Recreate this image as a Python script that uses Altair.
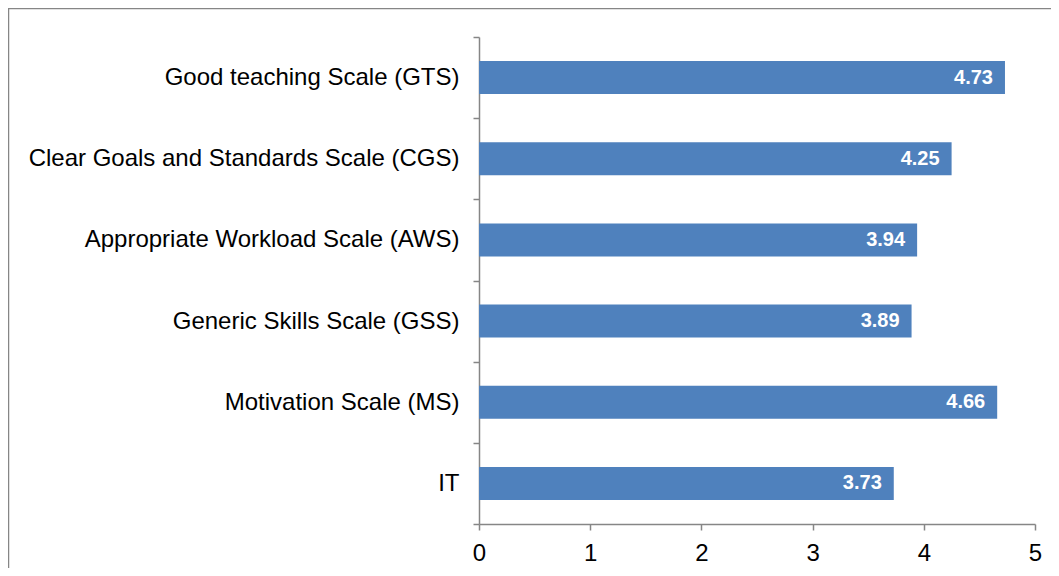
import altair as alt
import pandas as pd

categories = [
    "Good teaching Scale (GTS)",
    "Clear Goals and Standards Scale (CGS)",
    "Appropriate Workload Scale (AWS)",
    "Generic Skills Scale (GSS)",
    "Motivation Scale (MS)",
    "IT",
]
values = [4.73, 4.25, 3.94, 3.89, 4.66, 3.73]
x_ticks = [0, 1, 2, 3, 4, 5]

df = pd.DataFrame({"category": categories, "value": values})

FONT = "Liberation Sans"
GRAY = "#868686"

y_enc = alt.Y(
    "category:N",
    sort=categories,
    scale=alt.Scale(paddingInner=0, paddingOuter=0),
    axis=alt.Axis(
        title=None,
        tickBand="extent",
        labelFontSize=24,
        labelPadding=14,
        labelLimit=0,
        tickSize=6,
    ),
)
x_enc = alt.X(
    "value:Q",
    scale=alt.Scale(domain=[0, 5], nice=False),
    axis=alt.Axis(
        title=None,
        values=x_ticks,
        format="d",
        labelFontSize=24,
        labelPadding=11,
        labelFlush=False,
        tickSize=6,
        grid=False,
    ),
)

base = alt.Chart(df)
bars = base.mark_bar(size=33, color="#4F81BD").encode(x=x_enc, y=y_enc)
labels = base.mark_text(
    align="right", baseline="middle", dx=-12, color="white",
    fontWeight="bold", fontSize=20, font=FONT,
).encode(x="value:Q", y=alt.Y("category:N", sort=categories), text=alt.Text("value:Q", format=".2f"))

frame = alt.Chart(pd.DataFrame({"k": [0]})).mark_rect(
    fill="transparent", stroke=GRAY, strokeWidth=1.5
).encode(
    x=alt.value(-470.5), x2=alt.value(3000),
    y=alt.value(-28.5), y2=alt.value(3000),
)

chart = alt.layer(frame, bars, labels).properties(
    width=556,
    height=487,
    padding={"left": 471, "top": 29, "right": 16, "bottom": 44},
    autosize=alt.AutoSizeParams(type="none"),
).configure_view(
    strokeWidth=0
).configure_axis(
    labelFont=FONT,
    labelColor="black",
    domainColor=GRAY,
    tickColor=GRAY,
    domainWidth=1.5,
    tickWidth=1.5,
    grid=False,
)

chart.save("out.html", embed_options={"renderer": "svg", "actions": False})
